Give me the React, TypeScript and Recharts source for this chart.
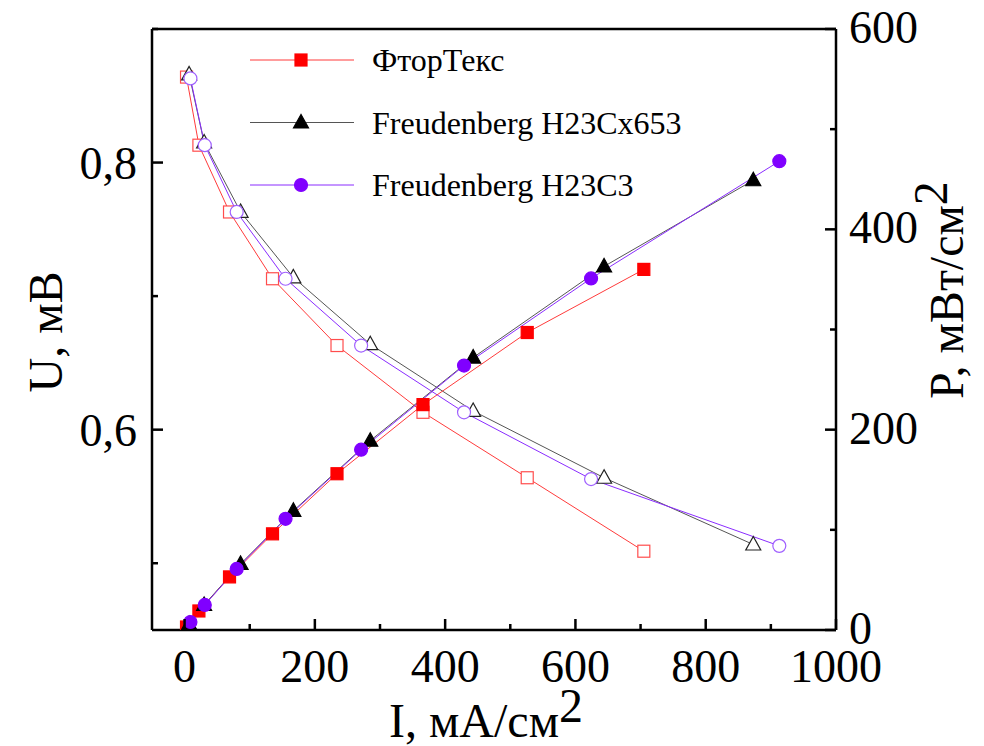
import React from "react";
import { LineChart, Line, XAxis, YAxis, Legend } from "recharts";

// ФторТекс
const ftI = [3, 22, 69, 135, 234, 366, 526, 705];
const ftU = [0.864, 0.813, 0.763, 0.713, 0.663, 0.613, 0.564, 0.509];
const ftP = [3, 19, 53, 96, 156, 225, 297, 360];

// Freudenberg H23Cx653
const cxI = [7, 30, 86, 167, 285, 443, 644, 873];
const cxU = [0.866, 0.815, 0.763, 0.714, 0.664, 0.614, 0.564, 0.514];
const cxP = [6, 25, 66, 119, 189, 272, 363, 449];

// Freudenberg H23C3
const c3I = [9, 31, 80, 155, 271, 429, 624, 913];
const c3U = [0.863, 0.813, 0.763, 0.713, 0.663, 0.613, 0.563, 0.513];
const c3P = [8, 25, 61, 111, 180, 264, 351, 468];

const xTicks = [0, 100, 200, 300, 400, 500, 600, 700, 800, 900, 1000];
const uTicks = [0.5, 0.6, 0.7, 0.8, 0.9];
const pTicks = [0, 100, 200, 300, 400, 500, 600];

const FONT = "'Liberation Serif', 'Times New Roman', serif";

const toData = (xs: number[], ys: number[]) => xs.map((i, k) => ({ i, v: ys[k] }));

type Shape = "square" | "triangle" | "circle";

function Marker({ cx, cy, shape, fill, stroke }: { cx: number; cy: number; shape: Shape; fill: string; stroke: string }) {
  if (shape === "square")
    return <rect x={cx - 6} y={cy - 6} width={12} height={12} fill={fill} stroke={stroke} strokeWidth={1.2} />;
  if (shape === "triangle")
    return (
      <polygon
        points={`${cx},${cy - 8} ${cx - 7.5},${cy + 5.5} ${cx + 7.5},${cy + 5.5}`}
        fill={fill}
        stroke={stroke}
        strokeWidth={1.2}
      />
    );
  return <circle cx={cx} cy={cy} r={6.5} fill={fill} stroke={stroke} strokeWidth={1.2} />;
}

const dot = (shape: Shape, fill: string, stroke: string) => (p: any) =>
  <Marker key={`${shape}-${fill}-${p.index}`} cx={p.cx} cy={p.cy} shape={shape} fill={fill} stroke={stroke} />;

const series = [
  { name: "ФторТекс", I: ftI, U: ftU, P: ftP, shape: "square" as Shape, color: "#ff0000", line: "#ff3b3b", hollow: "#ff4d4d" },
  { name: "Freudenberg H23Cx653", I: cxI, U: cxU, P: cxP, shape: "triangle" as Shape, color: "#000000", line: "#555555", hollow: "#222222" },
  { name: "Freudenberg H23C3", I: c3I, U: c3U, P: c3P, shape: "circle" as Shape, color: "#8000ff", line: "#8a2cff", hollow: "#a060ff" },
];

const BottomTick = ({ x, y, payload }: any) => {
  const major = payload.value % 200 === 0;
  return (
    <g>
      <line x1={x} x2={x} y1={y} y2={y - (major ? 11 : 6)} stroke="#000" strokeWidth={2.5} />
      {major && (
        <text x={x} y={y + 52} textAnchor="middle" fontFamily={FONT} fontSize={46} fill="#000">
          {payload.value}
        </text>
      )}
    </g>
  );
};

const TopTick = ({ x, y, payload }: any) => {
  const major = payload.value % 200 === 0;
  return <line x1={x} x2={x} y1={y} y2={y + (major ? 11 : 6)} stroke="#000" strokeWidth={2.5} />;
};

const LeftTick = ({ x, y, payload }: any) => {
  const major = Math.round(payload.value * 10) % 2 === 0;
  return (
    <g>
      <line x1={x} x2={x + (major ? 11 : 6)} y1={y} y2={y} stroke="#000" strokeWidth={2.5} />
      {major && (
        <text x={x - 15} y={y + 16} textAnchor="end" fontFamily={FONT} fontSize={46} fill="#000">
          {payload.value.toFixed(1).replace(".", ",")}
        </text>
      )}
    </g>
  );
};

const RightTick = ({ x, y, payload }: any) => {
  const major = payload.value % 200 === 0;
  return (
    <g>
      <line x1={x} x2={x - (major ? 11 : 6)} y1={y} y2={y} stroke="#000" strokeWidth={2.5} />
      {major && (
        <text x={x + 13} y={y + 14} textAnchor="start" fontFamily={FONT} fontSize={46} fill="#000">
          {payload.value}
        </text>
      )}
    </g>
  );
};

const XTitle = () => (
  <text x={486} y={737} textAnchor="middle" fontFamily={FONT} fontSize={48} fill="#000">
    I, мА/см<tspan dy={-15}>2</tspan>
  </text>
);

const UTitle = () => (
  <text transform="translate(62, 332) rotate(-90)" textAnchor="middle" fontFamily={FONT} fontSize={48} fill="#000">
    U, мВ
  </text>
);

const PTitle = () => (
  <text transform="translate(963, 290) rotate(-90)" textAnchor="middle" fontFamily={FONT} fontSize={48} fill="#000">
    P, мВт/см<tspan dy={-16}>2</tspan>
  </text>
);

const LegendBox = () => (
  <svg width={480} height={180}>
    {series.map((s, k) => {
      const y = 30 + k * 62.5;
      return (
        <g key={s.name}>
          <line x1={10} x2={114} y1={y} y2={y} stroke={s.line} strokeWidth={1} />
          <Marker cx={61} cy={y} shape={s.shape} fill={s.color} stroke={s.color} />
          <text x={132} y={y + 11} fontFamily={FONT} fontSize={32} fill="#000">
            {s.name}
          </text>
        </g>
      );
    })}
  </svg>
);

export default function App() {
  return (
    <div style={{ position: "absolute", left: 0, top: 0, width: 984, height: 746, background: "#fff" }}>
      <LineChart width={984} height={746} margin={{ top: 28, right: 88, bottom: 56, left: 92 }}>
        <XAxis
          xAxisId="b"
          dataKey="i"
          type="number"
          domain={[-50, 1000]}
          allowDataOverflow
          ticks={xTicks}
          interval={0}
          height={60}
          tickLine={false}
          tickSize={0}
          tickMargin={0}
          axisLine={{ stroke: "#000", strokeWidth: 2.5 }}
          tick={BottomTick}
          label={{ content: XTitle }}
        />
        <XAxis
          xAxisId="t"
          orientation="top"
          type="number"
          domain={[-50, 1000]}
          allowDataOverflow
          ticks={xTicks}
          interval={0}
          height={1}
          tickLine={false}
          tickSize={0}
          tickMargin={0}
          axisLine={{ stroke: "#000", strokeWidth: 2.5 }}
          tick={TopTick}
        />
        <YAxis
          yAxisId="u"
          type="number"
          domain={[0.45, 0.9]}
          allowDataOverflow
          ticks={uTicks}
          interval={0}
          width={60}
          tickLine={false}
          tickSize={0}
          tickMargin={0}
          axisLine={{ stroke: "#000", strokeWidth: 2.5 }}
          tick={LeftTick}
          label={{ content: UTitle }}
        />
        <YAxis
          yAxisId="p"
          orientation="right"
          type="number"
          domain={[0, 600]}
          allowDataOverflow
          ticks={pTicks}
          interval={0}
          width={60}
          tickLine={false}
          tickSize={0}
          tickMargin={0}
          axisLine={{ stroke: "#000", strokeWidth: 2.5 }}
          tick={RightTick}
          label={{ content: PTitle }}
        />
        <Legend
          layout="vertical"
          align="center"
          verticalAlign="middle"
          wrapperStyle={{ left: 240, top: 30, width: 480, height: 180 }}
          content={LegendBox}
        />
        {series.map((s) => (
          <Line
            key={s.name + "-u"}
            data={toData(s.I, s.U)}
            dataKey="v"
            xAxisId="b"
            yAxisId="u"
            type="linear"
            stroke={s.line}
            strokeWidth={1}
            dot={dot(s.shape, "#fff", s.hollow)}
            activeDot={false}
            legendType="none"
            isAnimationActive={false}
          />
        ))}
        {series.map((s) => (
          <Line
            key={s.name + "-p"}
            name={s.name}
            data={toData(s.I, s.P)}
            dataKey="v"
            xAxisId="b"
            yAxisId="p"
            type="linear"
            stroke={s.line}
            strokeWidth={1}
            dot={dot(s.shape, s.color, s.color)}
            activeDot={false}
            isAnimationActive={false}
          />
        ))}
      </LineChart>
    </div>
  );
}
